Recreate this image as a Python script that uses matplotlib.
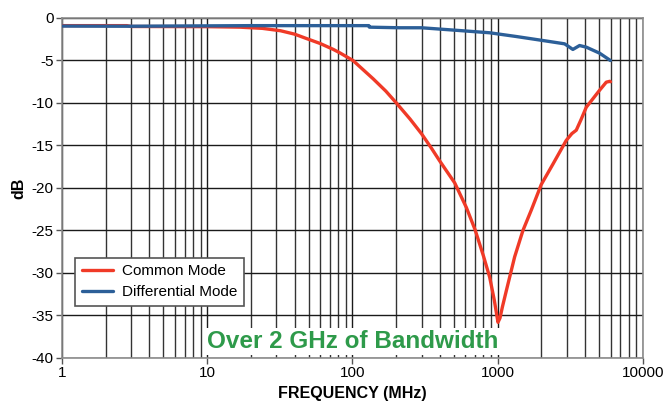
import matplotlib
matplotlib.use("Agg")
import matplotlib.pyplot as plt
from matplotlib.ticker import LogLocator, FixedLocator, NullFormatter

plt.rcParams['font.family'] = ['Liberation Sans', 'DejaVu Sans']

# Common mode response (MHz, dB)
cm_freq = [1, 2.8, 3, 10, 16.8, 24, 32, 40, 48, 60, 74, 82, 101, 139, 170, 201,
           250, 299, 350, 399, 507, 610, 700, 800, 883, 950, 1007, 1040, 1080,
           1149, 1312, 1496, 1708, 2000, 2406, 2974, 3250, 3486, 3750, 4085,
           5046, 5610, 5930, 6000]
cm_db = [-0.9, -0.9, -1.0, -1.02, -1.08, -1.22, -1.5, -1.9, -2.4, -3.0, -3.7,
         -4.1, -5.0, -7.15, -8.6, -10.0, -11.9, -13.6, -15.3, -16.8, -19.4,
         -22.3, -24.9, -28.0, -30.5, -33.2, -35.8, -35.3, -34.0, -32.1, -28.1,
         -25.0, -22.6, -19.6, -17.2, -14.4, -13.6, -13.2, -12.0, -10.5, -8.5,
         -7.55, -7.45, -7.5]

# Differential mode response (MHz, dB)
dm_freq = [1, 3, 20, 130, 131, 212, 299, 468, 883, 1347, 2054, 2897, 3303, 3673,
           4085, 5046, 5990]
dm_db = [-0.95, -0.97, -0.9, -0.9, -1.08, -1.15, -1.15, -1.39, -1.74, -2.18,
         -2.65, -3.04, -3.7, -3.24, -3.43, -4.14, -5.0]

y_ticks = [0, -5, -10, -15, -20, -25, -30, -35, -40]
x_ticks = [1, 10, 100, 1000, 10000]
x_tick_labels = ["1", "10", "100", "1000", "10000"]

fig = plt.figure(figsize=(6.63, 4.07), dpi=100)
ax = fig.add_axes([0.0935, 0.1204, 0.8759, 0.8354])

ax.plot(cm_freq, cm_db, color="#f03a27", lw=2.4, label="Common Mode",
        solid_joinstyle="round", solid_capstyle="round", zorder=3)
ax.plot(dm_freq, dm_db, color="#2c5f98", lw=2.4, label="Differential Mode",
        solid_joinstyle="round", solid_capstyle="round", zorder=3)

ax.set_xscale("log")
ax.set_xlim(1, 10000)
ax.set_ylim(-40, 0)
ax.xaxis.set_major_locator(FixedLocator(x_ticks))
ax.set_xticklabels(x_tick_labels)
ax.xaxis.set_minor_locator(LogLocator(base=10, subs=range(2, 10), numticks=20))
ax.xaxis.set_minor_formatter(NullFormatter())
ax.set_yticks(y_ticks)
ax.set_yticklabels([str(v) for v in y_ticks])

ax.grid(True, which="major", axis="both", color="#1a1a1a", lw=1.0)
ax.grid(True, which="minor", axis="x", color="#333333", lw=1.0)
ax.set_axisbelow(True)

for s in ax.spines.values():
    s.set_color("#8c8c8c")
    s.set_linewidth(1.2)

ax.tick_params(axis="both", which="major", length=4, width=1, color="#555555",
               labelsize=11, pad=2)
ax.tick_params(axis="x", which="minor", length=0)

ax.set_xlabel("FREQUENCY (MHz)", fontsize=11.5, fontweight="bold", labelpad=4)
ax.set_ylabel("dB", fontsize=11.5, fontweight="bold", labelpad=4)

leg = ax.legend(loc="lower left", bbox_to_anchor=(0.01, 0.13), fontsize=11,
                frameon=True, fancybox=False, handlelength=2.0,
                borderpad=0.45, labelspacing=0.45, handletextpad=0.6)
leg.get_frame().set_edgecolor("#555555")
leg.get_frame().set_linewidth(1.2)
leg.get_frame().set_facecolor("white")
leg.get_frame().set_alpha(1)

ax.text(0.5, 0.015, "Over 2 GHz of Bandwidth", transform=ax.transAxes,
        ha="center", va="bottom", fontsize=17.5, fontweight="bold",
        color="#2e9a4a", zorder=4,
        bbox=dict(facecolor="white", edgecolor="none", pad=1.5))

fig.savefig("out.png", dpi=100)
